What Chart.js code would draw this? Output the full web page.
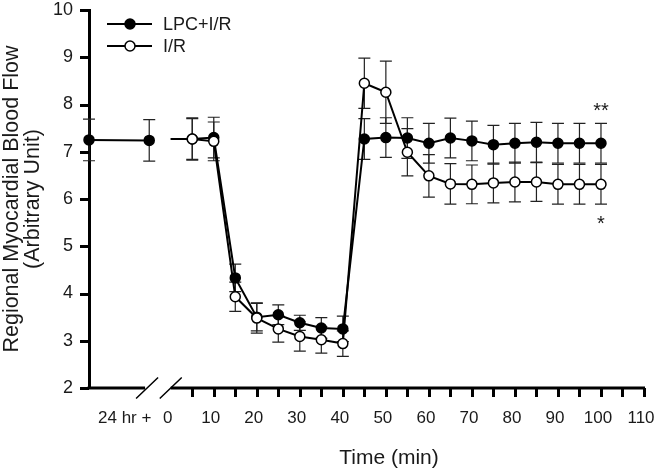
<!DOCTYPE html>
<html><head><meta charset="utf-8">
<script src="https://cdn.jsdelivr.net/npm/chart.js@4.4.1/dist/chart.umd.min.js"></script>
<style>html,body{margin:0;padding:0;background:#fff}canvas{display:block}</style>
</head><body>
<canvas id="c" width="656" height="474"></canvas>
<script>
const FONT = '"Liberation Sans", Arial, sans-serif';
const TEXT = '#1a1a1a';

// "24 hr +" baseline readings (placed on the broken part of the time axis)
const preTimes = [-19, -5];
const preLPC = [7.25, 7.24];
const preLPCse = [0.44, 0.44];

// Time course (min)
const times = [0,5,10,15,20,25,30,35,40,45,50,55,60,65,70,75,80,85,90,95,100];
const lpcValues = [7.27,7.27,7.30,4.33,3.50,3.55,3.38,3.27,3.25,7.27,7.30,7.29,7.18,7.29,7.23,7.15,7.18,7.20,7.18,7.18,7.18];
const lpcSE     = [null,0.43,0.43,0.29,0.29,0.21,0.16,0.22,0.27,0.43,0.42,0.43,0.42,0.42,0.42,0.41,0.42,0.42,0.42,0.42,0.42];
const irValues  = [7.27,7.27,7.22,3.93,3.48,3.25,3.09,3.02,2.94,8.45,8.26,6.99,6.49,6.32,6.31,6.34,6.36,6.36,6.31,6.31,6.31];
const irSE      = [null,0.45,0.41,0.31,0.32,0.28,0.31,0.28,0.27,0.53,0.66,0.50,0.45,0.43,0.41,0.42,0.42,0.41,0.42,0.42,0.42];

const seriesLabels = ['LPC+I/R', 'I/R'];

// Axis ticks / labels
const yTickValues = [2,3,4,5,6,7,8,9,10];
const xLabelValues = [-10,0,10,20,30,40,50,60,70,80,90,100,110];
const xLabels = ['24 hr +','0','10','20','30','40','50','60','70','80','90','100','110'];
const xMinorTicks = [5,15,25,35,45,55,65,75,85,95,105];
const axisBreaks = [-5.5, 0];
const significance = [{x:100, y:7.97, text:'**'}, {x:100, y:5.58, text:'*'}];

const lpcData = preTimes.map((t,i)=>({x:t, y:preLPC[i], se:preLPCse[i]}))
  .concat([{x:-2.5, y:null}])
  .concat(times.map((t,i)=>({x:t, y:lpcValues[i], se:lpcSE[i]})));
const irData = times.map((t,i)=>({x:t, y:irValues[i], se:irSE[i]}));

const errorBars = {
  id:'errorBars',
  beforeDatasetsDraw(chart){
    const ctx = chart.ctx, ys = chart.scales.y;
    ctx.save();
    ctx.strokeStyle = '#222'; ctx.lineWidth = 1.2;
    chart.data.datasets.forEach((ds, di)=>{
      const meta = chart.getDatasetMeta(di);
      meta.data.forEach((pt, i)=>{
        const r = ds.data[i];
        if (r.y == null || r.se == null) return;
        const x = pt.x;
        const y1 = ys.getPixelForValue(r.y + r.se), y2 = ys.getPixelForValue(r.y - r.se);
        ctx.beginPath();
        ctx.moveTo(x, y1); ctx.lineTo(x, y2);
        ctx.moveTo(x-6, y1); ctx.lineTo(x+6, y1);
        ctx.moveTo(x-6, y2); ctx.lineTo(x+6, y2);
        ctx.stroke();
      });
    });
    ctx.restore();
  }
};

const decorations = {
  id:'decorations',
  afterDraw(chart){
    const ctx = chart.ctx, xs = chart.scales.x, ys = chart.scales.y, ca = chart.chartArea;
    const yb = ca.bottom, xl = ca.left;
    ctx.save();
    // tick marks
    ctx.fillStyle = '#000';
    for (const v of yTickValues) {
      const p = Math.round(ys.getPixelForValue(v));
      ctx.fillRect(xl - 9, p - 1, 9, 3);
    }
    for (const v of xMinorTicks.concat(xLabelValues.filter(v=>v >= 5))) {
      const p = Math.round(xs.getPixelForValue(v));
      ctx.fillRect(p - 1, yb, 3, 9);
    }
    // broken x axis
    const b1 = xs.getPixelForValue(axisBreaks[0]), b2 = xs.getPixelForValue(axisBreaks[1]);
    ctx.strokeStyle = '#000';
    ctx.lineWidth = 3;
    ctx.beginPath();
    ctx.moveTo(xl - 1.5, yb); ctx.lineTo(b1 - 2, yb);
    ctx.moveTo(b2, yb); ctx.lineTo(ca.right + 1, yb);
    ctx.stroke();
    ctx.lineWidth = 1.5;
    ctx.beginPath();
    [b1, b2].forEach(b=>{ ctx.moveTo(b - 11, yb + 10.5); ctx.lineTo(b + 11, yb - 10.5); });
    ctx.stroke();
    // x title
    ctx.fillStyle = TEXT;
    ctx.font = '21px ' + FONT;
    ctx.textAlign = 'center'; ctx.textBaseline = 'alphabetic';
    ctx.fillText('Time (min)', (ca.left + ca.right)/2 + 22.5, 464);
    // significance marks
    ctx.font = '20px ' + FONT;
    significance.forEach(s=>{
      ctx.fillText(s.text, xs.getPixelForValue(s.x), ys.getPixelForValue(s.y) + 11.5);
    });
    // legend
    const items = [{y:24, fill:'#000'}, {y:46, fill:'#fff'}];
    items.forEach((it, i)=>{
      ctx.strokeStyle = '#000'; ctx.lineWidth = 2;
      ctx.beginPath(); ctx.moveTo(107, it.y); ctx.lineTo(152, it.y); ctx.stroke();
      ctx.beginPath(); ctx.arc(130, it.y, 5, 0, Math.PI*2);
      ctx.fillStyle = it.fill; ctx.fill(); ctx.lineWidth = 1.5; ctx.stroke();
      ctx.fillStyle = TEXT; ctx.font = '18px ' + FONT;
      ctx.textAlign = 'left'; ctx.textBaseline = 'middle';
      ctx.fillText(seriesLabels[i], 163, it.y + 1);
    });
    ctx.restore();
  }
};

const radius = c => (c.raw && c.raw.x === 0) ? 0 : 5;

new Chart(document.getElementById('c'), {
  type:'line',
  data:{ datasets:[
    { label: seriesLabels[0], data: lpcData, borderColor:'#000', borderWidth:2, tension:0,
      pointRadius: radius, pointBackgroundColor:'#000', pointBorderColor:'#000', pointBorderWidth:1.5,
      spanGaps:false, clip:false, order:1 },
    { label: seriesLabels[1], data: irData, borderColor:'#000', borderWidth:2, tension:0,
      pointRadius: radius, pointBackgroundColor:'#fff', pointBorderColor:'#000', pointBorderWidth:1.5,
      spanGaps:false, clip:false, order:0 }
  ]},
  options:{
    responsive:false, animation:false, devicePixelRatio:1,
    layout:{ padding:{ top:10, right:12, bottom:0, left:0 } },
    plugins:{ legend:{display:false}, tooltip:{enabled:false} },
    scales:{
      x:{
        type:'linear', min:-19, max:110,
        afterBuildTicks(scale){
          scale.ticks = xLabelValues.concat(xMinorTicks).sort((a,b)=>a-b).map(v=>({value:v}));
        },
        afterFit(scale){ scale.height = 86; scale.paddingLeft = 0; scale.paddingRight = 0; },
        border:{ display:false },
        grid:{ drawOnChartArea:false, drawTicks:true, tickLength:6, color:'rgba(0,0,0,0)', tickColor:'rgba(0,0,0,0)' },
        ticks:{ autoSkip:false, maxRotation:0, minRotation:0, padding:14, labelOffset:-3,
                color:TEXT, font:{ family:FONT, size:17 },
                callback: v => { const i = xLabelValues.indexOf(v); return i >= 0 ? xLabels[i] : ''; } }
      },
      y:{
        type:'linear', min:2, max:10,
        afterBuildTicks(scale){ scale.ticks = yTickValues.map(v=>({value:v})); },
        afterFit(scale){ scale.width = 89; scale.paddingTop = 0; scale.paddingBottom = 0; },
        border:{ display:true, color:'#000', width:3 },
        grid:{ drawOnChartArea:false, drawTicks:true, tickLength:7, color:'rgba(0,0,0,0)', tickColor:'rgba(0,0,0,0)' },
        ticks:{ padding:9, color:TEXT, font:{ family:FONT, size:18 } },
        title:{ display:true, text:['Regional Myocardial Blood Flow','(Arbitrary Unit)'],
                color:TEXT, font:{ family:FONT, size:21.5, lineHeight:1.0 }, padding:{ top:1.25, bottom:0 } }
      }
    }
  },
  plugins:[errorBars, decorations]
});
</script>
</body></html>
